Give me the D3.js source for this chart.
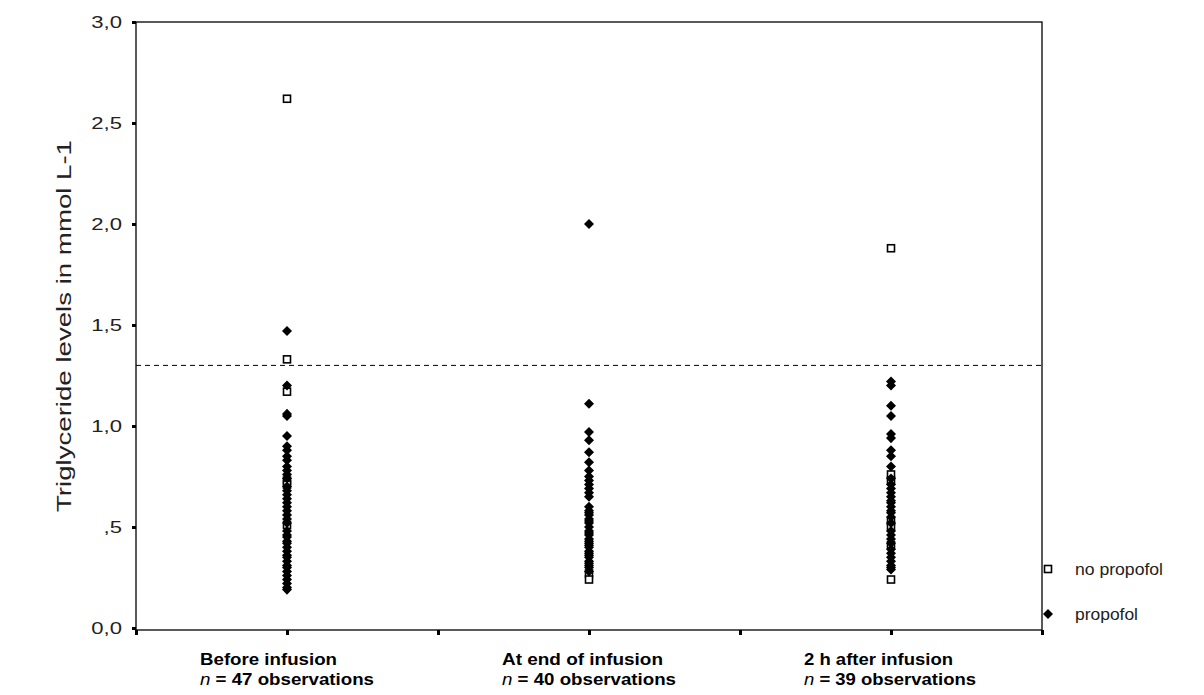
<!DOCTYPE html>
<html>
<head>
<meta charset="utf-8">
<script src="https://cdn.jsdelivr.net/npm/d3@7"></script>
<style>
  html, body { margin: 0; padding: 0; background: #ffffff; }
  svg { display: block; font-family: "Liberation Sans", Arial, sans-serif; }
</style>
</head>
<body>
<svg id="chart" width="1204" height="695"></svg>
<script>
// Measurement times (positions on the 0..6 category axis)
const timepoints = ["Before infusion", "At end of infusion", "2 h after infusion"];
const timeSlots = [1, 3, 5];
const observationCounts = [47, 40, 39];

// Triglyceride values (mmol/L), no propofol group
const noPropofol = [
  [2.62, 1.33, 1.17, 0.73, 0.71, 0.51],
  [0.27, 0.24],
  [1.88, 0.76, 0.73, 0.53, 0.50, 0.41, 0.24]
];

// Triglyceride values (mmol/L), propofol group
const propofol = [
  [1.47, 1.20, 1.06, 1.05, 0.95, 0.90, 0.88, 0.85, 0.83, 0.80, 0.78, 0.76, 0.74,
   0.68, 0.66, 0.64, 0.62, 0.60, 0.58, 0.56, 0.54, 0.52, 0.48, 0.46, 0.45, 0.43,
   0.42, 0.40, 0.38, 0.36, 0.35, 0.33, 0.31, 0.30, 0.28, 0.26, 0.24, 0.22, 0.20, 0.19, 0.70],
  [2.00, 1.11, 0.97, 0.93, 0.87, 0.82, 0.78, 0.75, 0.73, 0.71, 0.69, 0.67, 0.65,
   0.60, 0.58, 0.57, 0.56, 0.54, 0.53, 0.52, 0.50, 0.48, 0.47, 0.46, 0.44, 0.43,
   0.42, 0.41, 0.40, 0.38, 0.37, 0.36, 0.35, 0.33, 0.32, 0.31, 0.30, 0.28],
  [1.22, 1.20, 1.10, 1.05, 0.96, 0.94, 0.88, 0.85, 0.80, 0.74, 0.71, 0.69, 0.67,
   0.65, 0.63, 0.62, 0.60, 0.58, 0.57, 0.55, 0.52, 0.48, 0.46, 0.44, 0.42, 0.39,
   0.37, 0.35, 0.33, 0.31, 0.30, 0.29]
];

const yTicks = [0, 0.5, 1.0, 1.5, 2.0, 2.5, 3.0];
const yTickLabels = ["0,0", ",5", "1,0", "1,5", "2,0", "2,5", "3,0"];
const referenceLevel = 1.3;
const yTitle = "Triglyceride levels in mmol L-1";
const legendLabels = ["no propofol", "propofol"];

const svg = d3.select("#chart");
const margin = { left: 136, right: 162, top: 22, bottom: 65 };
const W = 1204, H = 695;

const x = d3.scaleLinear().domain([0, 6]).range([margin.left, W - margin.right]);
const y = d3.scaleLinear().domain([0, 3]).range([H - margin.bottom - 2, margin.top]);

const plotTop = y(3), plotBottom = y(0) + 2;

// Frame
svg.append("rect")
  .attr("x", x(0)).attr("y", plotTop)
  .attr("width", x(6) - x(0)).attr("height", plotBottom - plotTop)
  .attr("fill", "none").attr("stroke", "#000").attr("stroke-width", 1.3);

// Y axis ticks and labels (labels drawn slightly widened)
const labelStretch = 1.3;
const yAxis = d3.axisLeft(y)
  .tickValues(yTicks)
  .tickSize(4)
  .tickPadding(10)
  .tickFormat((d, i) => yTickLabels[i]);
const gy = svg.append("g").attr("transform", `translate(${x(0)},0)`).call(yAxis);
gy.select(".domain").remove();
gy.selectAll(".tick line").attr("stroke", "#000").attr("stroke-width", 3);
gy.selectAll(".tick text")
  .attr("font-size", 17).attr("fill", "#222")
  .attr("font-family", "Liberation Sans, Arial, sans-serif")
  .attr("x", -14 / labelStretch)
  .attr("transform", `scale(${labelStretch},1)`);

// X axis ticks (no labels on the axis itself)
const xAxis = d3.axisBottom(x).tickValues(d3.range(0, 7)).tickSize(5).tickFormat("");
const gx = svg.append("g").attr("transform", `translate(0,${plotBottom})`).call(xAxis);
gx.select(".domain").remove();
gx.selectAll(".tick line").attr("stroke", "#000").attr("stroke-width", 3);

// Reference line
svg.append("line")
  .attr("x1", x(0)).attr("x2", x(6))
  .attr("y1", y(referenceLevel)).attr("y2", y(referenceLevel))
  .attr("stroke", "#000").attr("stroke-width", 1)
  .attr("stroke-dasharray", "5,4");

// Markers
const squareSize = 7;
const diamond = d3.symbol().type(d3.symbolDiamond2).size(64);

const sqData = noPropofol.flatMap((vals, i) => vals.map(v => ({ slot: timeSlots[i], v })));
const dmData = propofol.flatMap((vals, i) => vals.map(v => ({ slot: timeSlots[i], v })));

svg.append("g").selectAll("rect").data(sqData).join("rect")
  .attr("x", d => x(d.slot) - squareSize / 2)
  .attr("y", d => y(d.v) - squareSize / 2)
  .attr("width", squareSize).attr("height", squareSize)
  .attr("fill", "#fff").attr("stroke", "#000").attr("stroke-width", 1.6);

svg.append("g").selectAll("path").data(dmData).join("path")
  .attr("d", diamond)
  .attr("transform", d => `translate(${x(d.slot)},${y(d.v)})`)
  .attr("fill", "#000");

// Y axis title
svg.append("text")
  .attr("transform", `translate(71,${(plotTop + plotBottom) / 2}) rotate(-90)`)
  .attr("text-anchor", "middle")
  .attr("font-size", 21).attr("fill", "#222")
  .attr("textLength", 372).attr("lengthAdjust", "spacingAndGlyphs")
  .text(yTitle);

// Category labels beneath the axis
const labelWidths = [[137, 174], [161, 174], [149, 172]];
const catLabels = svg.append("g")
  .attr("font-weight", "bold").attr("font-size", 17).attr("fill", "#000");
timepoints.forEach((t, i) => {
  const x0 = x(timeSlots[i]) - 87;
  catLabels.append("text").attr("x", x0).attr("y", 665)
    .attr("textLength", labelWidths[i][0]).attr("lengthAdjust", "spacingAndGlyphs")
    .text(t);
  const line2 = catLabels.append("text").attr("x", x0).attr("y", 685)
    .attr("textLength", labelWidths[i][1]).attr("lengthAdjust", "spacingAndGlyphs");
  line2.append("tspan").attr("font-style", "italic").attr("font-weight", "normal").text("n");
  line2.append("tspan").text(` = ${observationCounts[i]} observations`);
});

// Legend
const legend = svg.append("g").attr("font-size", 16).attr("fill", "#222");
legend.append("rect")
  .attr("x", 1048 - squareSize / 2).attr("y", 569 - squareSize / 2)
  .attr("width", squareSize).attr("height", squareSize)
  .attr("fill", "#fff").attr("stroke", "#000").attr("stroke-width", 1.6);
legend.append("text").attr("x", 1075).attr("y", 575)
  .attr("textLength", 88).attr("lengthAdjust", "spacingAndGlyphs").text(legendLabels[0]);
legend.append("path").attr("d", diamond).attr("transform", "translate(1048,614)").attr("fill", "#000");
legend.append("text").attr("x", 1075).attr("y", 620)
  .attr("textLength", 63).attr("lengthAdjust", "spacingAndGlyphs").text(legendLabels[1]);
</script>
</body>
</html>
